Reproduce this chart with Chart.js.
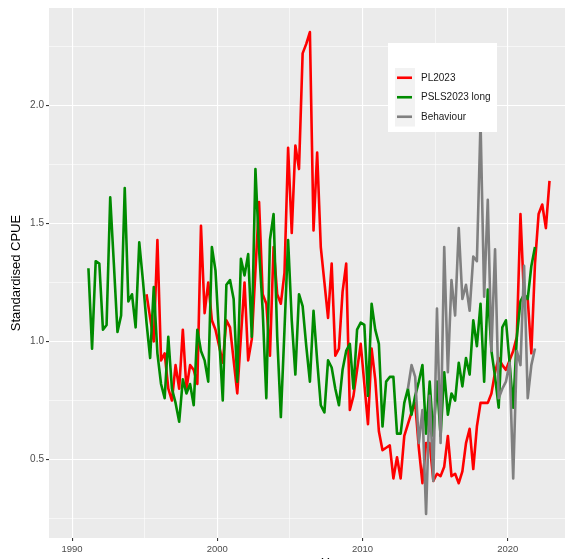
<!DOCTYPE html>
<html>
<head>
<meta charset="utf-8">
<script src="https://cdn.jsdelivr.net/npm/chart.js@4.4.1/dist/chart.umd.min.js"></script>
<style>
  html, body { margin: 0; padding: 0; background: #fff; overflow: hidden; }
  #wrap { width: 565px; height: 559px; overflow: hidden; }
</style>
</head>
<body>
<div id="wrap"><canvas id="cpueChart" width="620" height="573"></canvas></div>
<script>
(function () {
  'use strict';

  // quarterly values, first point of each series at mid-quarter
  var plStart = 1995.125;
  var pslsStart = 1991.125;
  var behStart = 2013.125;
  var step = 0.25;

  var pl2023 = [
    1.20, 1.10, 1.00, 1.43, 0.92, 0.95, 0.80, 0.75, 0.90, 0.80, 1.05, 0.80, 0.90, 0.88, 0.82, 1.49,
    1.12, 1.25, 1.09, 1.05, 0.98, 0.91, 1.09, 1.06, 0.92, 0.78, 1.02, 1.25, 0.92, 1.01, 1.30, 1.59,
    1.20, 1.16, 0.94, 1.40, 1.20, 1.16, 1.29, 1.82, 1.46, 1.83, 1.73, 2.22, 2.26, 2.31, 1.47, 1.80,
    1.40, 1.25, 1.10, 1.33, 0.94, 0.97, 1.21, 1.33, 0.71, 0.77, 0.88, 0.99, 0.82, 0.65, 0.97, 0.84,
    0.62, 0.54, 0.55, 0.56, 0.42, 0.51, 0.42, 0.60, 0.65, 0.70, 0.74, 0.55, 0.40, 0.57, 0.57, 0.41,
    0.44, 0.43, 0.47, 0.60, 0.43, 0.44, 0.40, 0.45, 0.57, 0.63, 0.46, 0.64, 0.74, 0.74, 0.74, 0.78,
    0.87, 0.93, 0.90, 0.88, 0.92, 0.96, 1.02, 1.54, 1.18, 1.18, 0.95, 1.33, 1.54, 1.58, 1.48, 1.68
  ];

  var psls2023Long = [
    1.31, 0.97, 1.34, 1.33, 1.05, 1.07, 1.61, 1.33, 1.04, 1.11, 1.65, 1.17, 1.20, 1.06, 1.42, 1.26,
    1.08, 0.93, 1.23, 0.95, 0.82, 0.76, 1.02, 0.80, 0.74, 0.66, 0.84, 0.78, 0.82, 0.73, 1.05, 0.96,
    0.92, 0.83, 1.40, 1.30, 1.02, 0.75, 1.24, 1.26, 1.18, 0.83, 1.35, 1.28, 1.37, 1.02, 1.73, 1.39,
    1.13, 0.76, 1.43, 1.54, 1.02, 0.68, 1.05, 1.43, 1.09, 0.86, 1.20, 1.15, 0.98, 0.83, 1.13, 0.92,
    0.73, 0.70, 0.92, 0.89, 0.80, 0.73, 0.88, 0.96, 0.99, 0.80, 1.05, 1.08, 1.07, 0.77, 1.16, 1.05,
    0.99, 0.64, 0.83, 0.85, 0.85, 0.61, 0.61, 0.74, 0.80, 0.69, 0.77, 0.83, 0.90, 0.61, 0.83, 0.60,
    0.83, 0.60, 0.87, 0.69, 0.78, 0.75, 0.91, 0.81, 0.93, 0.86, 1.09, 0.98, 1.16, 0.83, 1.22, 0.96,
    0.85, 0.72, 1.06, 1.09, 0.91, 0.72, 1.02, 1.17, 1.20, 1.18, 1.32, 1.40
  ];

  var behaviour = [
    0.80, 0.90, 0.85, 0.57, 0.71, 0.27, 0.77, 0.41, 1.14, 0.57, 1.40, 0.87, 1.26, 1.11, 1.48, 1.18,
    1.24, 1.13, 1.36, 1.34, 1.93, 1.19, 1.60, 0.96, 1.39, 0.76, 0.80, 0.83, 0.91, 0.42, 0.96, 0.90,
    1.32, 0.76, 0.90, 0.97
  ];

  var seriesLabels = ['PL2023', 'PSLS2023 long', 'Behaviour'];
  var seriesColors = ['#FF0000', '#008B00', '#808080'];

  // axis breaks
  var xMajor = [1990, 2000, 2010, 2020];
  var xMinor = [1995, 2005, 2015, 2025];
  var yMajor = [0.5, 1.0, 1.5, 2.0];
  var yMinor = [0.25, 0.75, 1.25, 1.75, 2.25];

  var fontFamily = '"Liberation Sans", Arial, sans-serif';

  function toPoints(start, values) {
    return values.map(function (v, i) {
      return { x: start + i * step, y: v };
    });
  }

  function breaks(major, minor) {
    return major.concat(minor).sort(function (a, b) { return a - b; });
  }

  function isMajor(list, v) {
    return list.indexOf(v) !== -1;
  }

  // grey panel like ggplot
  var panelBackground = {
    id: 'panelBackground',
    beforeDraw: function (chart) {
      var a = chart.chartArea;
      var ctx = chart.ctx;
      ctx.save();
      ctx.fillStyle = '#EBEBEB';
      ctx.fillRect(a.left, a.top, a.right - a.left, a.bottom - a.top);
      ctx.restore();
    }
  };

  // legend box inside the panel, drawn over the lines
  var insideLegend = {
    id: 'insideLegend',
    afterDraw: function (chart) {
      var ctx = chart.ctx;
      var boxX = 388, boxY = 43, boxW = 109, boxH = 89;
      var keyX = 395, keyY = 68, keyW = 20, keyH = 19.5;
      ctx.save();
      ctx.fillStyle = '#FFFFFF';
      ctx.fillRect(boxX, boxY, boxW, boxH);
      ctx.fillStyle = '#F2F2F2';
      ctx.fillRect(keyX, keyY, keyW, keyH * seriesLabels.length);
      ctx.font = '10px ' + fontFamily;
      ctx.textBaseline = 'middle';
      ctx.textAlign = 'left';
      for (var i = 0; i < seriesLabels.length; i++) {
        var cy = keyY + keyH * i + keyH / 2;
        ctx.strokeStyle = seriesColors[i];
        ctx.lineWidth = 2.6;
        ctx.beginPath();
        ctx.moveTo(keyX + 2, cy);
        ctx.lineTo(keyX + keyW - 3, cy);
        ctx.stroke();
        ctx.fillStyle = '#1A1A1A';
        ctx.fillText(seriesLabels[i], keyX + 26, cy);
      }
      ctx.restore();
    }
  };

  function lineDataset(label, color, start, values, order) {
    return {
      label: label,
      data: toPoints(start, values),
      borderColor: color,
      backgroundColor: color,
      borderWidth: 2.6,
      borderJoinStyle: 'round',
      pointRadius: 0,
      pointHoverRadius: 0,
      tension: 0,
      fill: false,
      order: order
    };
  }

  var ctx = document.getElementById('cpueChart').getContext('2d');
  var cpueChart = new Chart(ctx, {
    type: 'line',
    data: {
      datasets: [
        lineDataset(seriesLabels[0], seriesColors[0], plStart, pl2023, 3),
        lineDataset(seriesLabels[1], seriesColors[1], pslsStart, psls2023Long, 2),
        lineDataset(seriesLabels[2], seriesColors[2], behStart, behaviour, 1)
      ]
    },
    options: {
      responsive: false,
      animation: false,
      devicePixelRatio: 1,
      layout: { padding: { top: 8, right: 1, bottom: 0, left: 0 } },
      plugins: {
        legend: { display: false },
        tooltip: { enabled: false }
      },
      scales: {
        x: {
          type: 'linear',
          min: 1988.41,
          max: 2027.66,
          afterBuildTicks: function (scale) {
            scale.ticks = breaks(xMajor, xMinor).map(function (v) { return { value: v }; });
          },
          afterFit: function (scale) { scale.height = 35; },
          border: { display: false },
          grid: {
            color: '#FFFFFF',
            lineWidth: function (c) { return isMajor(xMajor, c.tick.value) ? 1.1 : 0.55; },
            tickColor: function (c) { return isMajor(xMajor, c.tick.value) ? '#333333' : 'rgba(0,0,0,0)'; },
            tickLength: 3
          },
          ticks: {
            autoSkip: false,
            maxRotation: 0,
            padding: 3,
            color: '#4D4D4D',
            font: { family: fontFamily, size: 9.5 },
            callback: function (v) { return isMajor(xMajor, v) ? String(v) : ''; }
          },
          title: {
            display: true,
            text: 'Year',
            color: '#000000',
            font: { family: fontFamily, size: 12.5 },
            padding: { top: 0, bottom: 2 }
          }
        },
        y: {
          type: 'linear',
          min: 0.168,
          max: 2.412,
          afterBuildTicks: function (scale) {
            scale.ticks = breaks(yMajor, yMinor).map(function (v) { return { value: v }; });
          },
          afterFit: function (scale) { scale.width = 49; },
          border: { display: false },
          grid: {
            color: '#FFFFFF',
            lineWidth: function (c) { return isMajor(yMajor, c.tick.value) ? 1.1 : 0.55; },
            tickColor: function (c) { return isMajor(yMajor, c.tick.value) ? '#333333' : 'rgba(0,0,0,0)'; },
            tickLength: 3
          },
          ticks: {
            padding: 2,
            color: '#4D4D4D',
            font: { family: fontFamily, size: 10 },
            callback: function (v) { return isMajor(yMajor, v) ? v.toFixed(1) : ''; }
          },
          title: {
            display: true,
            text: 'Standardised CPUE',
            color: '#000000',
            font: { family: fontFamily, size: 13 },
            padding: { top: 9, bottom: 0 }
          }
        }
      }
    },
    plugins: [panelBackground, insideLegend]
  });
}());
</script>
</body>
</html>
